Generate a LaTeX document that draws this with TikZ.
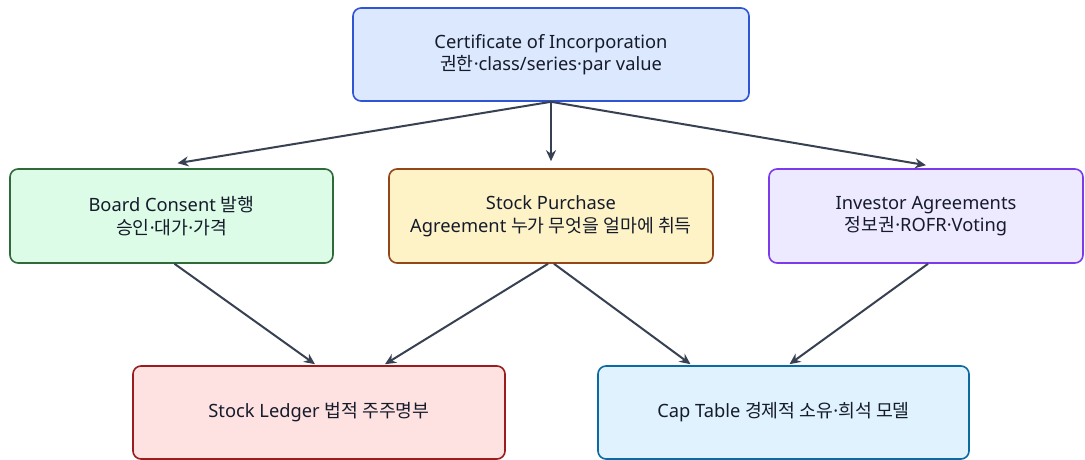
\documentclass[tikz,border=0pt]{standalone}
\usepackage{fontspec}
\setmainfont{Noto Sans}
\newfontfamily\kr{Noto Sans CJK KR}
\newcommand{\K}[1]{{\kr #1}}
\usetikzlibrary{arrows.meta,calc}
\definecolor{txt}{HTML}{151B2B}
\definecolor{arr}{HTML}{374151}
\definecolor{topF}{HTML}{DBE8FE}\definecolor{topD}{HTML}{2F55D4}
\definecolor{brdF}{HTML}{DCFCE7}\definecolor{brdD}{HTML}{2F6B3A}
\definecolor{spaF}{HTML}{FEF3C7}\definecolor{spaD}{HTML}{94461A}
\definecolor{invF}{HTML}{EDE9FE}\definecolor{invD}{HTML}{7C3AED}
\definecolor{ledF}{HTML}{FEE2E2}\definecolor{ledD}{HTML}{9B1C1C}
\definecolor{capF}{HTML}{E0F2FE}\definecolor{capD}{HTML}{0A6AA1}
\tikzset{
  box/.style={draw, line width=1.6pt, rounded corners=8pt, align=center,
    text=txt, font=\fontsize{18.3}{22.5}\selectfont, inner sep=0pt},
  conn/.style={draw=arr, line width=2pt, -{Stealth[length=11pt,width=10pt]}}
}
\begin{document}
\begin{tikzpicture}[x=1pt,y=-1pt]
\useasboundingbox (0,0) rectangle (1085,460);
\node[box, fill=topF, draw=topD, minimum width=396pt, minimum height=93pt] (top) at (551,54.5) {Certificate of Incorporation\\\K{권한}·class/series·par value};
\node[box, fill=brdF, draw=brdD, minimum width=323pt, minimum height=94pt] (board) at (171.5,216) {Board Consent \K{발행}\\\K{승인}·\K{대가}·\K{가격}};
\node[box, fill=spaF, draw=spaD, minimum width=324pt, minimum height=94pt] (spa) at (551,216) {Stock Purchase\\Agreement \K{누가 무엇을 얼마에 취득}};
\node[box, fill=invF, draw=invD, minimum width=314pt, minimum height=94pt] (inv) at (926,216) {Investor Agreements\\\K{정보권}·ROFR·Voting};
\node[box, fill=ledF, draw=ledD, minimum width=372pt, minimum height=93pt] (led) at (319,412.5) {Stock Ledger \K{법적 주주명부}};
\node[box, fill=capF, draw=capD, minimum width=371pt, minimum height=93pt] (cap) at (783.5,412.5) {Cap Table \K{경제적 소유}·\K{희석 모델}};
\draw[conn] (top.south) -- ($(board.north)+(6,-5)$);
\draw[conn] (top.south) -- ($(spa.north)+(0,-7)$);
\draw[conn] (top.south) -- ($(inv.north)+(0,-3)$);
\draw[conn] ($(board.south)+(3,0)$) -- ($(led.north)+(-4,-1)$);
\draw[conn] ($(spa.south)+(-3,0)$) -- ($(led.north)+(66,-1)$);
\draw[conn] ($(spa.south)+(3,0)$) -- ($(cap.north)+(-93,-1)$);
\draw[conn] ($(inv.south)+(2,0)$) -- ($(cap.north)+(6,-1)$);
\end{tikzpicture}
\end{document}
